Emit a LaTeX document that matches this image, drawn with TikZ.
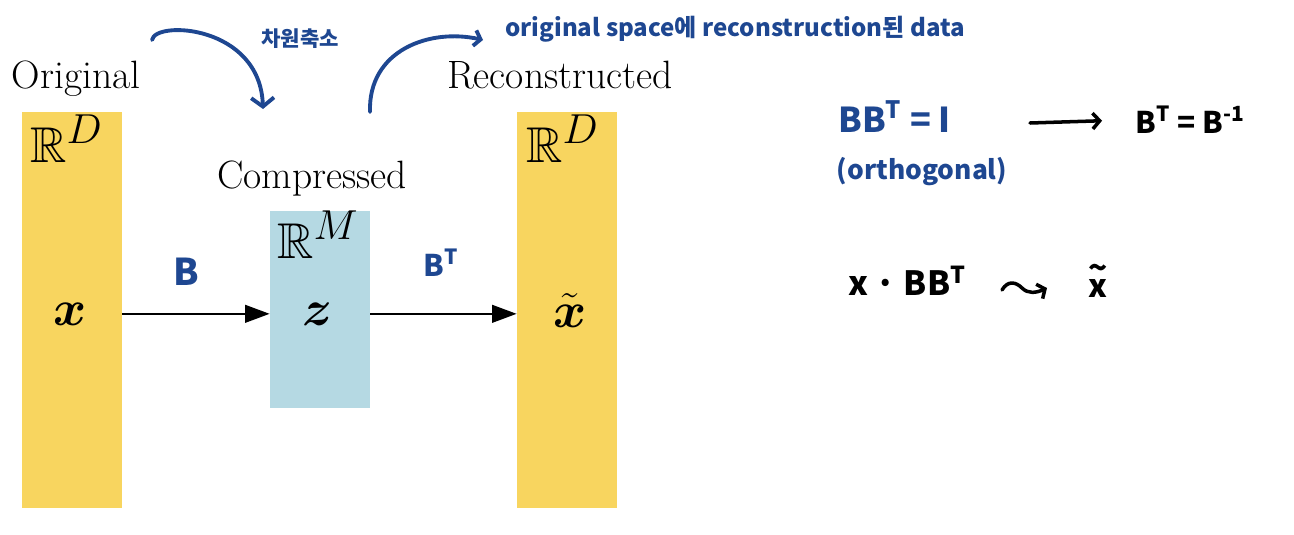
\documentclass[tikz,border=0pt]{standalone}
\usepackage{amsmath,amssymb}
\usepackage{graphicx}
\usepackage{fontspec}
\newfontfamily\handfont{Noto Sans CJK KR}
\usetikzlibrary{arrows.meta}

\definecolor{boxyellow}{HTML}{F8D55F}
\definecolor{boxblue}{HTML}{B5D9E3}
\definecolor{penblue}{HTML}{1E4791}
\newcommand{\bigmath}[1]{\scalebox{1.15}{$#1$}}
\newcommand{\handsize}[1]{\handfont\bfseries\fontsize{#1}{#1}\selectfont}

\begin{document}
\begin{tikzpicture}[x=0.02cm,y=-0.02cm,
	space/.style={inner sep=0pt, minimum width=2cm},
	title/.style={font=\fontsize{22.5}{26}\selectfont, inner sep=0pt},
	sym/.style={font=\fontsize{24.88}{28}\selectfont, inner sep=0pt},
	flow/.style={line width=1.4pt, -{Triangle[length=14pt,width=10pt]}},
	pen/.style={text=penblue, inner sep=0pt},
	stroke/.style={penblue, line width=2.2pt, line cap=round, line join=round},
	marker/.style={line width=2pt, line cap=round, line join=round}]
	\useasboundingbox (0,0) rectangle (1294,534);

	% the three spaces
	\node[space, fill=boxyellow, minimum height=7.92cm] (orig) at (72,310) {};
	\node[space, fill=boxblue, minimum height=3.94cm] (comp) at (320,309.5) {};
	\node[space, fill=boxyellow, minimum height=7.92cm] (recon) at (567,310) {};

	\node[title, anchor=base] (origtitle) at (76,88) {Original};
	\node[title, anchor=base] (comptitle) at (312,188) {Compressed};
	\node[title, anchor=base] (recontitle) at (560,88) {Reconstructed};

	\node[sym, anchor=base west] (rdin) at (30,162) {\bigmath{\mathbb{R}^D}};
	\node[sym, anchor=base west] (rm) at (277,258) {\bigmath{\mathbb{R}^M}};
	\node[sym, anchor=base west] (rdout) at (526,162) {\bigmath{\mathbb{R}^D}};
	\node[sym, anchor=base] (xin) at (70,325) {\bigmath{\boldsymbol{x}}};
	\node[sym, anchor=base] (zmid) at (318,325) {\bigmath{\boldsymbol{z}}};
	\node[sym, anchor=base] (xout) at (570,327) {\bigmath{\tilde{\boldsymbol{x}}}};

	\draw[flow] (orig.east |- xin.center) -- (comp.west |- xin.center);
	\draw[flow] (comp.east |- xin.center) -- (recon.west |- xin.center);

	% notes in pen
	\node[pen, font=\handsize{21}, anchor=base] (blab) at (186,285) {B};
	\node[pen, font=\handsize{17}, anchor=base west] (btlab) at (423,276) {B\textsuperscript{T}};

	\coordinate (downs) at (152,40);
	\coordinate (downe) at (263,109);
	\draw[stroke, -{Straight Barb[length=5pt,width=13pt]}] (downs) .. controls (155,20) and (260,25) .. (downe);
	\node[pen, font=\handsize{12}] (shrink) at (300,39) {차원축소};

	\coordinate (ups) at (370,112);
	\coordinate (upe) at (483,40);
	\draw[stroke, -{Straight Barb[length=3.5pt,width=9pt]}] (ups) .. controls (368,50) and (430,28) .. (upe);
	\node[pen, font=\handsize{13.7}, anchor=base west] (backlab) at (505,36) {original space에 reconstruction된 data};

	\node[pen, font=\handsize{19.5}, anchor=base west] (orth) at (838,132) {BB\textsuperscript{T} = I};
	\node[pen, font=\handsize{15}] (orthnote) at (922,172) {(orthogonal)};
	\node[font=\handsize{17}, anchor=base west, inner sep=0pt] (inv) at (1135,133) {B\textsuperscript{T} = B\textsuperscript{-1}};
	\coordinate (imps) at (1030,123);
	\draw[marker, -{Straight Barb[length=4pt,width=9pt]}, shorten >=0.66cm] (imps) -- (inv.west);

	\node[font=\handsize{19}, anchor=base west, inner sep=0pt] (proj) at (848,295) {x · BB\textsuperscript{T}};
	\node[font=\handsize{18}, anchor=base, inner sep=0pt] (xhat) at (1098,297) {\ooalign{x\cr\hidewidth\raisebox{0.55em}{\textasciitilde}\hidewidth\cr}};
	\coordinate (sqs) at (1002,290);
	\coordinate (sqe) at (1047,288);
	\draw[marker, -{Straight Barb[length=3.5pt,width=9pt]}] (sqs) .. controls (1008,280) and (1016,282) .. (1022,288) .. controls (1028,294) and (1036,293) .. (sqe);

\end{tikzpicture}
\end{document}
